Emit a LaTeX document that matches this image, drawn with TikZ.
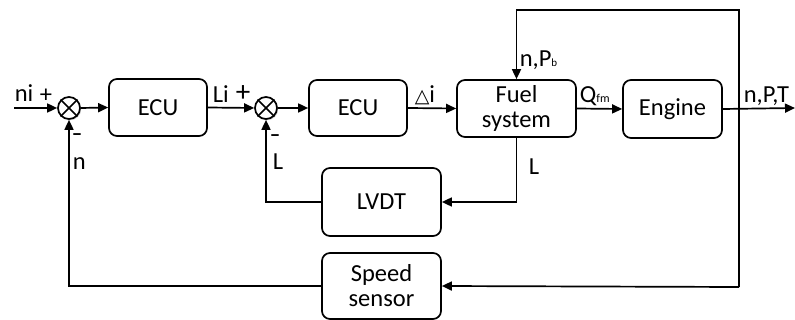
\documentclass[tikz,border=0pt]{standalone}
\usepackage{fontspec}
\setmainfont{Carlito}
\newfontfamily\dvfont{DejaVu Sans}
\usetikzlibrary{arrows.meta,shadows}
\begin{document}
\begin{tikzpicture}[x=1pt,y=-1pt,
  line width=1.7pt,
  blk/.style={draw,rounded corners=8pt,inner sep=0pt,align=center,font=\fontsize{24.5}{25}\selectfont},
  sumnode/.style={draw,circle,minimum size=22pt,inner sep=0pt,fill=white,drop shadow={shadow xshift=1.2pt,shadow yshift=-1.2pt,opacity=0.35}},
  lbl/.style={inner sep=0pt,font=\fontsize{24.5}{25}\selectfont},
  minus/.style={inner sep=0pt,font=\fontsize{21}{22}\selectfont\bfseries},
  arr/.style={-{Triangle[length=10pt,width=9pt]}}
]
\useasboundingbox (0,0) rectangle (795,320);

% blocks
\node[sumnode] (s1) at (69,108) {};
\node[blk,minimum width=98pt,minimum height=57pt] (ecu1) at (158,107.5) {ECU};
\node[sumnode] (s2) at (266,108) {};
\node[blk,minimum width=98pt,minimum height=56pt] (ecu2) at (358,108) {ECU};
\node[blk,minimum width=119pt,minimum height=57pt] (fuel) at (516.5,108.5) {Fuel\\system};
\node[blk,minimum width=99pt,minimum height=58pt] (eng) at (672.5,109) {Engine};
\node[blk,minimum width=119pt,minimum height=68pt] (lvdt) at (381.5,202) {LVDT};
\node[blk,minimum width=119pt,minimum height=66pt] (spd) at (381.5,286) {Speed\\sensor};

% crosses in summing junctions
\foreach \s in {s1,s2}{
  \draw[line width=1.5pt] (\s.45) -- (\s.225);
  \draw[line width=1.5pt] (\s.135) -- (\s.315);
}

% coordinates
\coordinate (in) at (14,108);
\coordinate (out) at (795,108);
\coordinate (top) at (739,10);
\coordinate (bot) at (739,287);

% forward path
\draw[arr] (in) -- (s1.west);
\draw[arr] (s1.east) -- (ecu1.west);
\draw[arr] (ecu1.east) -- (s2.west);
\draw[arr] (s2.east) -- (ecu2.west);
\draw[arr] (ecu2.east) -- (fuel.west);
\draw[arr] (fuel.east) -- (eng.west);
\draw[arr] (eng.east) -- (out);

% feedback paths
\draw[arr] (bot) -- (top) -| (fuel.north);
\draw[arr] (bot) -- (spd.east);
\draw[arr] (spd.west) -| (s1.south);
\draw[arr] (fuel.south) |- (lvdt.east);
\draw[arr] (lvdt.west) -| (s2.south);

% labels
\node[lbl,anchor=base west] (lni) at (14,102) {ni};
\node[lbl,anchor=center] (lp1) at (46,96) {+};
\node[minus,anchor=center] (lm1) at (77,137) {–};
\node[lbl,anchor=base west] (ln) at (72,170) {n};
\node[lbl,anchor=base west] (lli) at (212,103) {Li};
\node[lbl,anchor=center,font=\fontsize{29}{30}\selectfont] (lp2) at (243,94) {+};
\node[minus,anchor=center] (lm2) at (275,138) {–};
\node[lbl,anchor=base west] (ll2) at (272,170) {L};
\node[lbl,anchor=base west] (ldi) at (414,103) {{\dvfont\fontsize{19}{20}\selectfont △}i};
\node[lbl,anchor=base west] (lnp) at (519,67) {n,P{\fontsize{11}{12}\selectfont b}};
\node[lbl,anchor=base west] (lq) at (579,103) {Q{\fontsize{12}{12}\selectfont fm}};
\node[lbl,anchor=base west] (lnpt) at (743,103) {n,P,T};
\node[lbl,anchor=base west] (ll3) at (528,175) {L};
\end{tikzpicture}
\end{document}
